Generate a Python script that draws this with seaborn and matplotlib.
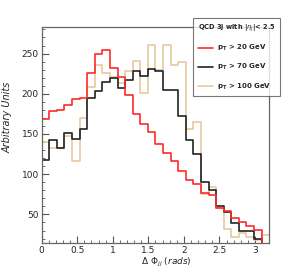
import numpy as np
import pandas as pd
import matplotlib
matplotlib.use("Agg")
import matplotlib.pyplot as plt
import seaborn as sns
from matplotlib.ticker import MultipleLocator

# bin edges: 30 bins from 0 to 3.2
edges = [round(i * 3.2 / 30, 6) for i in range(31)]
centers = [(edges[i] + edges[i + 1]) / 2 for i in range(30)]

pt20 = [169, 178, 180, 186, 193, 195, 226, 250, 255, 232,
        221, 198, 175, 162, 152, 138, 126, 117, 104, 93,
        88, 77, 74, 58, 54, 45, 41, 36, 31, 0]
pt70 = [118, 143, 133, 151, 144, 156, 195, 204, 215, 220,
        207, 217, 228, 222, 231, 228, 205, 205, 172, 143,
        125, 90, 81, 60, 53, 39, 30, 30, 20, 0]
pt100 = [140, 132, 132, 148, 117, 170, 208, 236, 226, 221,
         213, 228, 241, 201, 261, 230, 261, 236, 240, 156,
         165, 76, 84, 58, 32, 22, 27, 22, 18, 24]

labels = [r"$\mathbf{p_{T}}$ > 20 GeV", r"$\mathbf{p_{T}}$ > 70 GeV", r"$\mathbf{p_{T}}$ > 100 GeV"]
colors = ["#ff2a2a", "#222222", "#e8c8a0"]

sns.set_style("ticks")
plt.rcParams['font.family'] = ['DejaVu Sans']

fig = plt.figure(figsize=(2.84, 2.70), dpi=100)
ax = fig.add_axes([41.7 / 284, 1 - 243 / 270, (269.2 - 41.7) / 284, (243 - 27) / 270])

# draw in reverse so red sits on top of the others like the original
for vals, lab, col in list(zip([pt20, pt70, pt100], labels, colors))[::-1]:
    df = pd.DataFrame({"dphi": centers, "n": vals})
    sns.histplot(data=df, x="dphi", weights="n", bins=edges, element="step",
                 fill=False, color=col, linewidth=1.2, ax=ax, label=lab)

ax.set_xlim(0, 3.2)
ax.set_ylim(14.5, 283)
ax.xaxis.set_major_locator(MultipleLocator(0.5))
ax.xaxis.set_minor_locator(MultipleLocator(0.1))
ax.yaxis.set_major_locator(MultipleLocator(50))
ax.yaxis.set_minor_locator(MultipleLocator(10))
ax.set_xticks([0, 0.5, 1, 1.5, 2, 2.5, 3])
ax.set_xticklabels(["0", "0.5", "1", "1.5", "2", "2.5", "3"])
ax.tick_params(which="both", direction="in", top=False, right=False, labelsize=6.5, pad=2, color="#555555")
ax.tick_params(which="major", length=5, width=0.8)
ax.tick_params(which="minor", length=2.5, width=0.6)
for s in ax.spines.values():
    s.set_color("#666666")
    s.set_linewidth(0.9)

ax.set_xlabel(r"$\Delta\ \Phi_{jj}$ $\it{(rads)}$", fontsize=6.5)
ax.set_ylabel("Arbitrary Units", fontsize=7, style="italic")
ax.xaxis.set_label_coords(0.55, -0.06)
ax.yaxis.set_label_coords(-0.13, 0.58)

handles, labs = ax.get_legend_handles_labels()
order = [labs.index(l) for l in labels]
leg = ax.legend([handles[i] for i in order], labels,
                loc="upper left", bbox_to_anchor=(190 / 284, 1 - 15 / 270, 93 / 284, 0.0),
                bbox_transform=fig.transFigure, mode="expand",
                title=r"QCD 3j with |$\eta_{j}$|< 2.5", title_fontproperties={"weight": "bold", "size": 4.8},
                prop={"weight": "bold", "size": 5}, frameon=True, fancybox=False,
                handlelength=2.2, labelspacing=1.3, borderpad=0.6, handletextpad=0.6)
leg._legend_box.align = "left"
leg.get_frame().set_edgecolor("#555555")
leg.get_frame().set_linewidth(0.8)
leg.get_frame().set_facecolor("white")

fig.savefig("out.png", dpi=100)
